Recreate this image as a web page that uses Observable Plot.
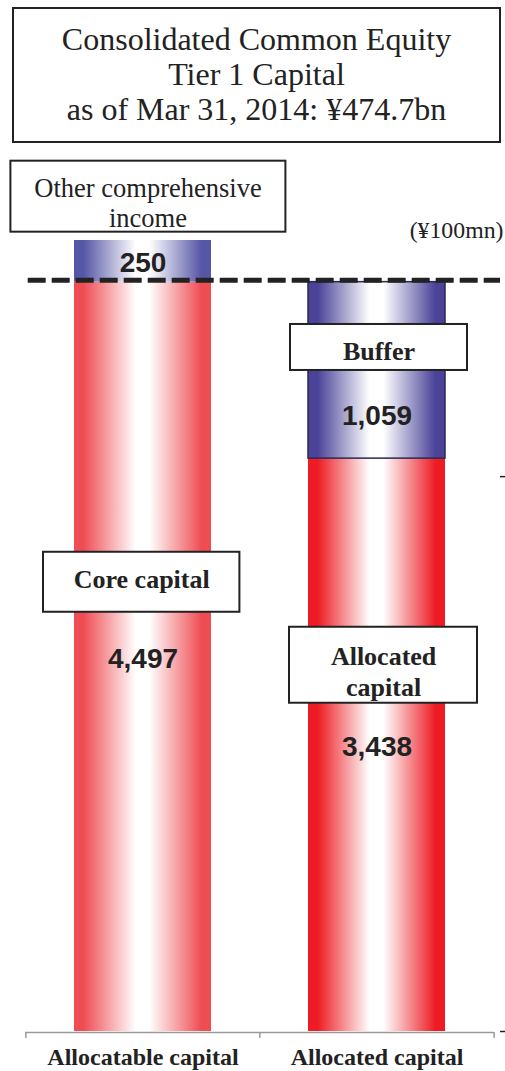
<!DOCTYPE html>
<html><head><meta charset="utf-8">
<script src="https://cdn.jsdelivr.net/npm/d3@7"></script>
<script src="https://cdn.jsdelivr.net/npm/@observablehq/plot@0.6"></script>
<style>
body{margin:0;background:#fff;}
#title{box-sizing:border-box;margin:7px 0 0 12px;width:489px;height:136px;border:2px solid #222;display:flex;align-items:center;justify-content:center;text-align:center;font-family:"Liberation Serif","Times New Roman",serif;font-size:32px;line-height:35px;color:#222;padding-bottom:2px;}
#chart{margin-top:7px;}
#chart svg g[aria-label="x-axis tick label"] text{font-weight:bold;}
</style></head>
<body>
<div id="title">Consolidated Common Equity<br>Tier 1 Capital<br>as of Mar 31, 2014: ¥474.7bn</div>
<div id="chart"></div>
<script>
const categories = ["Allocatable capital", "Allocated capital"];
const lowerNames = ["Core capital", "Allocated\ncapital"];
const lowerValues = [4497, 3438];
const upperNames = ["Other comprehensive\nincome", "Buffer"];
const upperValues = [250, 1059];
const unitLabel = "(¥100mn)";
const rightTicks = [0, 3330];

const rows = [];
categories.forEach((c, i) => {
  rows.push({cat: c, seg: "lower", i, name: lowerNames[i], value: lowerValues[i], y1: 0, y2: lowerValues[i]});
  rows.push({cat: c, seg: "upper", i, name: upperNames[i], value: upperValues[i], y1: lowerValues[i], y2: lowerValues[i] + upperValues[i]});
});
const fmt = d3.format(",");
const serif = '"Liberation Serif","Times New Roman",serif';
const sans = '"Liberation Sans",Arial,sans-serif';
const ink = "#222";

function box(cat, label, y1, y2, iL, iR, dx, dy, opts) {
  return [
    Plot.barY([label], {x: () => cat, y1: () => y1, y2: () => y2, insetLeft: iL, insetRight: iR,
      fill: "white", stroke: ink, strokeWidth: 2}),
    Plot.text([label], {x: () => cat, y: () => (y1 + y2) / 2, text: d => d, dx, dy,
      fill: ink, fontFamily: serif, ...opts})
  ];
}

const step = 469 / 2.002;
const plot = Plot.plot({
  width: 505, height: 921,
  marginLeft: 25, marginRight: 11, marginTop: 90, marginBottom: 40,
  x: {domain: categories, paddingInner: 0.415, paddingOuter: 0.2075, label: null},
  y: {domain: [0, lowerValues[0] + upperValues[0]], axis: null},
  color: {type: "identity"},
  style: {fontFamily: serif, color: ink, background: "#fff", overflow: "visible"},
  marks: [
    Plot.barY(rows, {x: "cat", y1: "y1", y2: "y2",
      fill: d => `url(#${d.seg}${d.i})`,
      stroke: d => (d.i === 1 && d.seg === "upper") ? "#2a2850" : "none", strokeWidth: 1.5}),
    Plot.ruleY([lowerValues[0]], {stroke: ink, strokeWidth: 5, strokeDasharray: "18,6", dy: -2, insetLeft: 2.7, insetRight: -6}),
    Plot.ruleY([0], {stroke: "#9a9a9a", strokeWidth: 1.5, dy: 1}),
    Plot.ruleX(categories, {x: d => d, dx: -step / 2, y1: 0, y2: -36, dy: 1, stroke: "#9a9a9a", strokeWidth: 1.5}),
    Plot.ruleX([categories[1]], {x: d => d, dx: step / 2, y1: 0, y2: -36, dy: 1, stroke: "#9a9a9a", strokeWidth: 1.5}),
    Plot.ruleY(rightTicks, {insetLeft: 475, insetRight: -11, stroke: ink, strokeWidth: 1.5}),
    ...box(categories[0], upperNames[0], 4797, 5223, -63.6, -74.4, 5, 6, {fontSize: 26.5, lineHeight: 1.1}),
    ...box(categories[1], upperNames[1], 3967, 4243, -18, -22, 2, 4, {fontSize: 26, fontWeight: "bold"}),
    ...box(categories[0], lowerNames[0], 2516, 2876, -31, -28.4, -1.3, -3, {fontSize: 26, fontWeight: "bold"}),
    ...box(categories[1], lowerNames[1], 1970, 2426, -19, -32, 6.6, 5.5, {fontSize: 26, fontWeight: "bold", lineHeight: 1.19}),
    Plot.text(rows.filter(d => !(d.i === 1 && d.seg === "upper")), {x: "cat", y: d => (d.y1 + d.y2) / 2, text: d => fmt(d.value),
      dy: 2, fontFamily: sans, fontWeight: "bold", fontSize: 28, fill: ink}),
    Plot.text(rows.filter(d => d.i === 1 && d.seg === "upper"), {x: "cat", y: d => (d.y1 + d.y2) / 2, text: d => fmt(d.value),
      dy: 46, fontFamily: sans, fontWeight: "bold", fontSize: 28, fill: ink}),
    Plot.text([unitLabel], {frameAnchor: "top-right", text: d => d, textAnchor: "end", dx: 9, dy: -19.6,
      fontSize: 23.8, fontFamily: serif, fill: ink}),
    Plot.axisX({tickSize: 0, tickPadding: 16, fontSize: 24, fontWeight: "bold", fontFamily: serif, label: null, fill: ink})
  ]
});

const NS = "http://www.w3.org/2000/svg";
const defs = document.createElementNS(NS, "defs");
const gradColors = {lower0: "#ef4d54", lower1: "#ed1c24", upper0: "#5656a6", upper1: "#4a4398"};
for (const [id, c] of Object.entries(gradColors)) {
  const g = document.createElementNS(NS, "linearGradient");
  g.setAttribute("id", id);
  g.setAttribute("x1", "0"); g.setAttribute("x2", "1"); g.setAttribute("y1", "0"); g.setAttribute("y2", "0");
  for (const [o, col] of [[0, c], [0.07, c], [0.45, "#ffffff"], [0.55, "#ffffff"], [0.93, c], [1, c]]) {
    const s = document.createElementNS(NS, "stop");
    s.setAttribute("offset", o);
    s.setAttribute("stop-color", col);
    g.appendChild(s);
  }
  defs.appendChild(g);
}
plot.prepend(defs);
document.getElementById("chart").appendChild(plot);
</script>
</body></html>
